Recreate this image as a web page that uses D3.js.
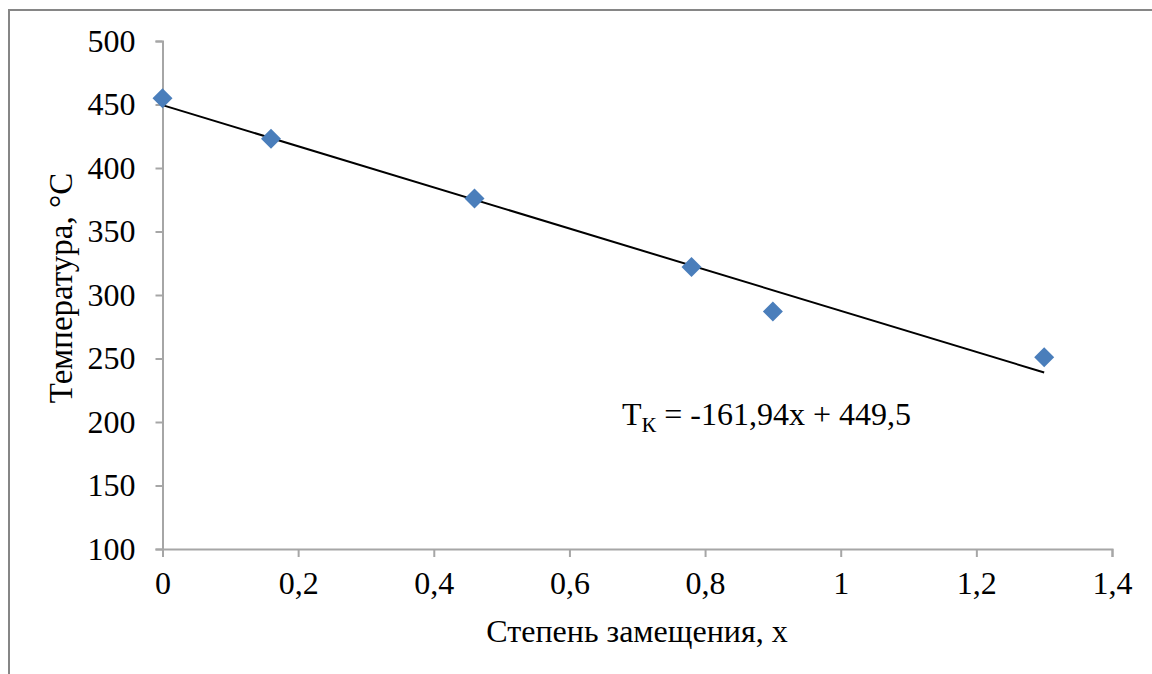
<!DOCTYPE html>
<html>
<head>
<meta charset="utf-8">
<script src="https://cdn.jsdelivr.net/npm/d3@7"></script>
<style>
  html, body { margin: 0; padding: 0; background: #fff; }
  svg { display: block; }
</style>
</head>
<body>
<svg id="chart" width="1152" height="674"></svg>
<script>
// Substitution degree x and Curie temperature, °C
const substitution = [0, 0.16, 0.46, 0.78, 0.9, 1.3];
const temperature = [455, 423, 376, 322, 287, 251];

// Linear trend: T = slope * x + intercept
const trendSlope = -161.94;
const trendIntercept = 449.5;

const xTicks = [0, 0.2, 0.4, 0.6, 0.8, 1, 1.2, 1.4];
const yTicks = [100, 150, 200, 250, 300, 350, 400, 450, 500];

const serif = '"Liberation Serif"';
const svg = d3.select("#chart");
const axisColor = "#a6a6a6";
const markerColor = "#4a7ebb";

// outer chart frame
svg.append("rect")
  .attr("x", 9).attr("y", 10)
  .attr("width", 1160).attr("height", 680)
  .attr("fill", "none")
  .attr("stroke", "#868686")
  .attr("stroke-width", 2);

const x = d3.scaleLinear().domain([0, 1.4]).range([162.5, 1112]);
const y = d3.scaleLinear().domain([100, 500]).range([549, 41]);

const fmt = d => String(d).replace(".", ",");

function styleAxis(g) {
  g.select(".domain").attr("stroke", axisColor).attr("stroke-width", 2);
  g.selectAll(".tick line").attr("stroke", axisColor).attr("stroke-width", 2);
  g.selectAll(".tick text")
    .style("font-family", serif).style("font-size", "32px").attr("fill", "#000");
}

// y axis
svg.append("g")
  .attr("transform", `translate(${x(0)},0)`)
  .call(d3.axisLeft(y).tickValues(yTicks).tickFormat(fmt).tickSize(7).tickPadding(20))
  .call(styleAxis);

// x axis
svg.append("g")
  .attr("transform", `translate(0,${y(100)})`)
  .call(d3.axisBottom(x).tickValues(xTicks).tickFormat(fmt).tickSize(8).tickPadding(14))
  .call(styleAxis);

// axis titles
svg.append("text")
  .attr("x", 637).attr("y", 642)
  .attr("text-anchor", "middle")
  .style("font-family", serif)
  .style("font-size", "32px")
  .text("Степень замещения, x");

svg.append("text")
  .attr("transform", "translate(72,288) rotate(-90)")
  .attr("text-anchor", "middle")
  .style("font-family", serif)
  .style("font-size", "33px")
  .text("Температура, °C");

// trend line across the data range
const trendX = d3.extent(substitution);
svg.append("line")
  .attr("x1", x(trendX[0])).attr("y1", y(trendSlope * trendX[0] + trendIntercept))
  .attr("x2", x(trendX[1])).attr("y2", y(trendSlope * trendX[1] + trendIntercept))
  .attr("stroke", "#000").attr("stroke-width", 2);

// data markers (diamonds)
const diamond = d3.symbol().type(d3.symbolSquare).size(200);
svg.append("g").selectAll("path")
  .data(substitution.map((d, i) => [d, temperature[i]]))
  .join("path")
  .attr("d", diamond)
  .attr("transform", d => `translate(${x(d[0])},${y(d[1])}) rotate(45)`)
  .attr("fill", markerColor);

// trend equation
const eq = svg.append("text")
  .attr("x", 622).attr("y", 425)
  .style("font-family", serif)
  .style("font-size", "32px");
eq.append("tspan").text("T");
eq.append("tspan").style("font-size", "22px").attr("dy", 7).text("К");
eq.append("tspan").attr("dy", -7).text(" = -161,94x + 449,5");
</script>
</body>
</html>
